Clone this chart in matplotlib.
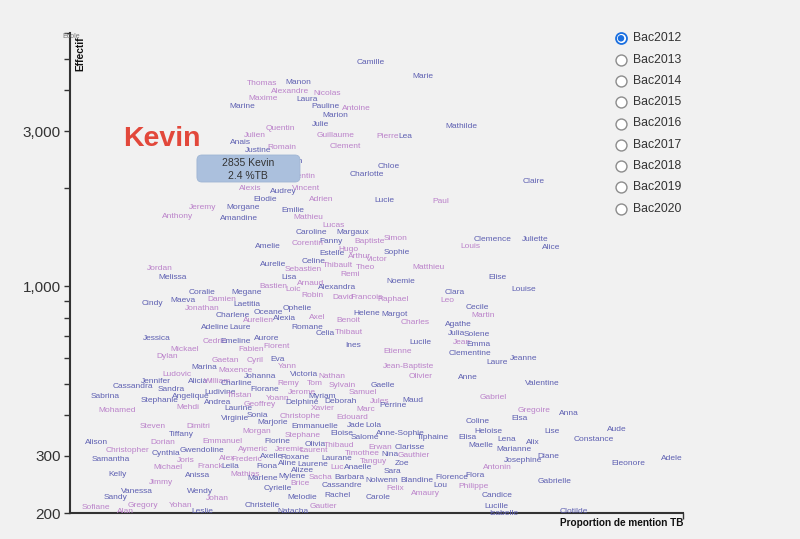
import matplotlib
matplotlib.use("Agg")
import matplotlib.pyplot as plt
from matplotlib.patches import FancyBboxPatch
from matplotlib.ticker import NullLocator

plt.rcParams['font.family'] = ['Liberation Sans', 'DejaVu Sans']

# prenoms des bacheliers 2012 : proportion de mention TB (%) et effectif
names = [
    "Camille", "Marie", "Thomas", "Manon", "Alexandre", "Nicolas", "Maxime", "Laura", "Marine", "Pauline",
    "Antoine", "Marion", "Julie", "Quentin", "Mathilde", "Julien", "Guillaume", "Pierre", "Lea", "Anais",
    "Justine", "Romain", "Clement", "Sarah", "Kevin", "Chloe", "Charlotte", "Valentin", "Claire", "Alexis",
    "Audrey", "Vincent", "Elodie", "Adrien", "Lucie", "Paul", "Jeremy", "Morgane", "Emilie", "Anthony",
    "Amandine", "Mathieu", "Lucas", "Caroline", "Margaux", "Fanny", "Corentin", "Baptiste", "Simon", "Amelie",
    "Hugo", "Clemence", "Juliette", "Louis", "Alice", "Sophie", "Estelle", "Arthur", "Victor", "Aurelie",
    "Celine", "Sebastien", "Thibault", "Theo", "Matthieu", "Jordan", "Remi", "Melissa", "Lisa", "Elise",
    "Noemie", "Arnaud", "Alexandra", "Bastien", "Loic", "Louise", "Coralie", "Megane", "Clara", "Damien",
    "Robin", "David", "Francois", "Raphael", "Leo", "Cindy", "Maeva", "Laetitia", "Jonathan", "Ophelie",
    "Oceane", "Cecile", "Charlene", "Aurelien", "Alexia", "Helene", "Margot", "Axel", "Benoit", "Martin",
    "Charles", "Romane", "Adeline", "Laure", "Agathe", "Celia", "Thibaut", "Julia", "Solene", "Jessica",
    "Aurore", "Cedric", "Emeline", "Lucile", "Jean", "Emma", "Mickael", "Fabien", "Florent", "Ines",
    "Etienne", "Clementine", "Dylan", "Gaetan", "Cyril", "Eva", "Laure", "Jeanne", "Yann", "Marina",
    "Maxence", "Jean-Baptiste", "Johanna", "Victoria", "Nathan", "Olivier", "Anne", "Ludovic", "Jennifer", "Alicia",
    "William", "Charline", "Florane", "Remy", "Tom", "Sylvain", "Gaelle", "Valentine", "Cassandra", "Sandra",
    "Ludivine", "Tristan", "Jerome", "Samuel", "Myriam", "Yoann", "Sabrina", "Angelique", "Stephanie", "Mehdi",
    "Andrea", "Laurine", "Geoffrey", "Delphine", "Xavier", "Deborah", "Jules", "Perrine", "Maud", "Marc",
    "Gabriel", "Mohamed", "Sonia", "Virginie", "Christophe", "Edouard", "Gregoire", "Anna", "Elsa", "Marjorie",
    "Emmanuelle", "Jade", "Lola", "Coline", "Steven", "Dimitri", "Morgan", "Lise", "Aude", "Constance",
    "Tiffany", "Stephane", "Eloise", "Salome", "Anne-Sophie", "Tiphaine", "Heloise", "Florine", "Emmanuel", "Alison",
    "Dorian", "Olivia", "Thibaud", "Erwan", "Clarisse", "Elisa", "Lena", "Alix", "Maelle", "Aymeric",
    "Jeremie", "Laurent", "Timothee", "Nina", "Gauthier", "Marianne", "Diane", "Christopher", "Cynthia", "Gwendoline",
    "Joris", "Alex", "Frederic", "Axelle", "Roxane", "Laurane", "Tanguy", "Zoe", "Josephine", "Eleonore",
    "Adele", "Samantha", "Antonin", "Michael", "Franck", "Leila", "Fiona", "Aline", "Alizee", "Laurene",
    "Luc", "Anaelle", "Sara", "Kelly", "Anissa", "Mathias", "Marlene", "Mylene", "Sacha", "Barbara",
    "Nolwenn", "Blandine", "Florence", "Flora", "Gabrielle", "Jimmy", "Brice", "Cyrielle", "Cassandre", "Felix",
    "Lou", "Philippe", "Candice", "Vanessa", "Wendy", "Melodie", "Rachel", "Amaury", "Carole", "Sandy",
    "Gregory", "Johan", "Christelle", "Gautier", "Lucille", "Sofiane", "Yohan", "Alan", "Leslie", "Natacha", "Isabelle", "Clotilde",
]

prop_tb = [
    7.86, 9.22, 5.01, 5.95, 5.74, 6.71, 5.04, 6.19, 4.49, 6.66,
    7.47, 6.92, 6.53, 5.48, 10.21, 4.83, 6.92, 8.28, 8.75, 4.44,
    4.91, 5.54, 7.18, 5.80, 2.40, 8.33, 7.75, 6.03, 12.09, 4.70,
    5.56, 6.16, 5.09, 6.55, 8.20, 9.69, 3.45, 4.52, 5.82, 2.82,
    4.41, 6.21, 6.87, 6.29, 7.39, 6.81, 6.19, 7.83, 8.49, 5.17,
    7.26, 11.04, 12.14, 10.44, 12.56, 8.54, 6.84, 7.57, 8.02, 5.30,
    6.37, 6.08, 7.00, 7.70, 9.35, 2.35, 7.31, 2.69, 5.72, 11.15,
    8.62, 6.27, 6.97, 5.30, 5.82, 11.85, 3.45, 4.62, 10.05, 3.97,
    6.34, 7.13, 7.75, 8.43, 9.84, 2.14, 2.95, 4.62, 3.45, 5.93,
    5.17, 10.63, 4.26, 4.91, 5.61, 7.75, 8.46, 6.45, 7.26, 10.78,
    9.01, 6.19, 3.79, 4.44, 10.13, 6.66, 7.28, 10.08, 10.63, 2.27,
    5.14, 3.79, 4.33, 9.14, 10.24, 10.65, 3.00, 4.73, 5.40, 7.39,
    8.56, 10.44, 2.53, 4.05, 4.83, 5.43, 11.15, 11.83, 5.67, 3.50,
    4.31, 8.83, 4.96, 6.11, 6.84, 9.14, 10.39, 2.79, 2.25, 3.34,
    3.86, 4.33, 5.09, 5.69, 6.40, 7.10, 8.17, 12.32, 1.64, 2.64,
    3.92, 4.44, 6.06, 7.65, 6.58, 5.43, 0.91, 3.16, 2.35, 3.08,
    3.84, 4.39, 4.96, 6.06, 6.61, 7.05, 8.09, 8.43, 8.96, 7.73,
    11.04, 1.23, 4.88, 4.31, 6.01, 7.36, 12.11, 13.03, 11.72, 5.30,
    6.40, 7.47, 7.91, 10.65, 2.17, 3.34, 4.88, 12.58, 14.28, 13.66,
    2.90, 6.06, 7.10, 7.70, 8.62, 9.48, 10.91, 5.40, 3.99, 0.70,
    2.43, 6.40, 7.02, 8.09, 8.88, 10.37, 11.41, 12.09, 10.71, 4.78,
    5.74, 6.37, 7.62, 8.36, 8.96, 11.59, 12.48, 1.51, 2.51, 3.45,
    3.03, 4.10, 4.62, 5.27, 5.87, 6.97, 7.91, 8.67, 11.83, 14.57,
    15.72, 1.07, 11.15, 2.56, 3.66, 4.18, 5.14, 5.67, 6.06, 6.34,
    6.97, 7.52, 8.41, 1.23, 3.32, 4.57, 5.04, 5.80, 6.53, 7.28,
    8.15, 9.06, 9.97, 10.57, 12.66, 2.38, 6.01, 5.43, 7.10, 8.49,
    9.66, 10.52, 11.15, 1.75, 3.39, 6.06, 6.97, 9.27, 8.04, 1.20,
    1.91, 3.86, 5.01, 6.61, 11.13, 0.68, 2.90, 1.44, 3.45, 5.82, 11.31, 13.16,
]

effectif = [
    4890, 4400, 4210, 4240, 3960, 3900, 3770, 3740, 3560, 3560,
    3530, 3340, 3150, 3060, 3090, 2900, 2900, 2880, 2880, 2760,
    2620, 2660, 2680, 2420, 2835, 2330, 2200, 2170, 2100, 2000,
    1950, 1990, 1850, 1850, 1830, 1815, 1740, 1750, 1713, 1640,
    1610, 1620, 1540, 1457, 1457, 1367, 1348, 1376, 1396, 1319,
    1300, 1386, 1386, 1328, 1310, 1264, 1256, 1229, 1203, 1162,
    1186, 1121, 1153, 1137, 1137, 1129, 1082, 1059, 1059, 1059,
    1030, 1015, 993, 1000, 979, 979, 958, 952, 952, 906,
    938, 925, 925, 912, 900, 881, 900, 875, 850, 850,
    832, 862, 809, 786, 792, 826, 820, 803, 786, 809,
    770, 748, 743, 743, 759, 717, 722, 717, 707, 692,
    692, 677, 677, 668, 668, 663, 640, 640, 650, 654,
    631, 618, 605, 592, 592, 596, 580, 600, 564, 560,
    548, 564, 525, 533, 525, 525, 522, 533, 507, 507,
    510, 503, 479, 500, 500, 493, 493, 503, 490, 482,
    469, 459, 469, 469, 456, 452, 456, 456, 446, 422,
    437, 419, 431, 437, 419, 440, 440, 428, 446, 416,
    453, 413, 401, 390, 398, 393, 413, 404, 390, 379,
    369, 371, 371, 384, 369, 369, 356, 356, 361, 338,
    349, 346, 351, 343, 353, 341, 356, 333, 333, 331,
    329, 326, 324, 319, 319, 343, 336, 331, 324, 315,
    313, 311, 306, 304, 300, 315, 298, 311, 306, 311,
    290, 294, 292, 298, 296, 294, 288, 284, 290, 284,
    294, 292, 276, 276, 278, 278, 278, 284, 270, 282,
    276, 276, 268, 264, 262, 264, 255, 259, 257, 257,
    253, 253, 257, 261, 251, 248, 246, 238, 243, 239,
    243, 241, 226, 234, 234, 224, 226, 230, 224, 224,
    211, 222, 211, 210, 210, 208, 211, 202, 202, 202, 200, 202,
]

sexe = ("FFMFMMMFFF" "MFFMFMMMFF" "FMMFMFFMFM" "FMFMFMMFFM" "FMMFFFMMMF"
        "MFFMFFFMMF" "FMMMMMMFFF" "FMFMMFFFFM" "MMMMMFFFMF" "FFFMFFFMMM"
        "MFFFFFMFFF" "FMFFMFMMMF" "MFMMMFFFMF" "MMFFMMFMFF" "MFFMMMFFFF"
        "FMMMFMFFFM" "FFMFMFMFFM" "MMFFMMMFFF" "FFFFMMMFFF" "FMFFFFFFMF"
        "MFMMFFFFFM" "MMMFMFFMFF" "MMMFFFMFFF" "FFMMMFFFFF" "MFFFFMFFMF"
        "FFFFFMMFFM" "FMFFFFFMFF" "MMFMFMMMFFFF")

assert len(names) == len(prop_tb) == len(effectif) == len(sexe)

hovered = "Kevin"
bac_years = ["Bac2012", "Bac2013", "Bac2014", "Bac2015", "Bac2016",
             "Bac2017", "Bac2018", "Bac2019", "Bac2020"]
selected = "Bac2012"

y_ticks = [200, 300, 400, 500, 600, 700, 800, 900,
           1000, 2000, 3000, 4000, 5000, 6000]
y_labelled = [200, 300, 1000, 3000]

colors = {"F": "#5e60b2", "M": "#bb82ca"}
bg = "#f1f1f1"

fig = plt.figure(figsize=(8, 5.39), dpi=100, facecolor=bg)
ax = fig.add_axes([0.0875, 0.0479, 0.76625, 0.8905])
ax.set_facecolor(bg)
ax.set_yscale("log")
ax.set_xlim(0, 16)
ax.set_ylim(200, 6000)

for n, x, y, s in zip(names, prop_tb, effectif, sexe):
    if n == hovered:
        continue
    ax.text(x, y, n, fontsize=6, color=colors[s], ha="center", va="center")

i = names.index(hovered)
ax.text(prop_tb[i], effectif[i], hovered, fontsize=20.5, fontweight="bold",
        color="#e2483b", ha="center", va="center", zorder=5)

ax.set_yticks(y_ticks)
ax.set_yticklabels([f"{v:,}" if v in y_labelled else "" for v in y_ticks])
ax.yaxis.set_minor_locator(NullLocator())
ax.set_xticks([16])
ax.set_xticklabels([""])
ax.tick_params(axis="both", direction="out", length=4.5, width=1,
               color="#333333", labelcolor="#333333", labelsize=11, pad=2)
for side in ["top", "right"]:
    ax.spines[side].set_visible(False)
for side in ["left", "bottom"]:
    ax.spines[side].set_linewidth(1.5)
    ax.spines[side].set_color("#333333")

# overlay in pixel units for tooltip, titles and radio buttons
ov = fig.add_axes([0, 0, 1, 1])
ov.set_xlim(0, 800)
ov.set_ylim(539, 0)
ov.axis("off")

kx, ky = ov.transData.inverted().transform(
    ax.transData.transform((prop_tb[i], effectif[i])))
box = FancyBboxPatch((kx + 35, ky + 16), 103, 27,
                     boxstyle="round,pad=0,rounding_size=5",
                     facecolor="#abc0dd", edgecolor="#9fb5d4", lw=0.6, zorder=6)
ov.add_patch(box)
ov.text(kx + 86, ky + 24, f"{effectif[i]} {hovered}", fontsize=7.5,
        color="#333333", ha="center", va="center", zorder=7)
ov.text(kx + 86, ky + 37, f"{prop_tb[i]} %TB", fontsize=7.5,
        color="#333333", ha="center", va="center", zorder=7)

ov.text(71, 36, "Ecole", fontsize=5, color="#777777", ha="center", va="center")
ov.text(80, 54, "Effectif", fontsize=7.4, fontweight="bold", color="#111111",
        rotation=90, ha="center", va="center")
ov.text(683, 523, "Proportion de mention TB", fontsize=7.2, fontweight="bold",
        color="#111111", ha="right", va="center")

for k, yr in enumerate(bac_years):
    yy = 38.3 + 21.3 * k
    if yr == selected:
        ov.scatter([621], [yy], s=62, facecolor="white", edgecolor="#1a6fe0", lw=1.3, zorder=3)
        ov.scatter([621], [yy], s=22, facecolor="#1a6fe0", edgecolor="none", zorder=4)
    else:
        ov.scatter([621], [yy], s=62, facecolor="white", edgecolor="#8c8c8c", lw=1, zorder=3)
    ov.text(633, yy, yr, fontsize=8.8, color="#333333", ha="left", va="center")

plt.savefig("out.png", dpi=100, facecolor=bg)
